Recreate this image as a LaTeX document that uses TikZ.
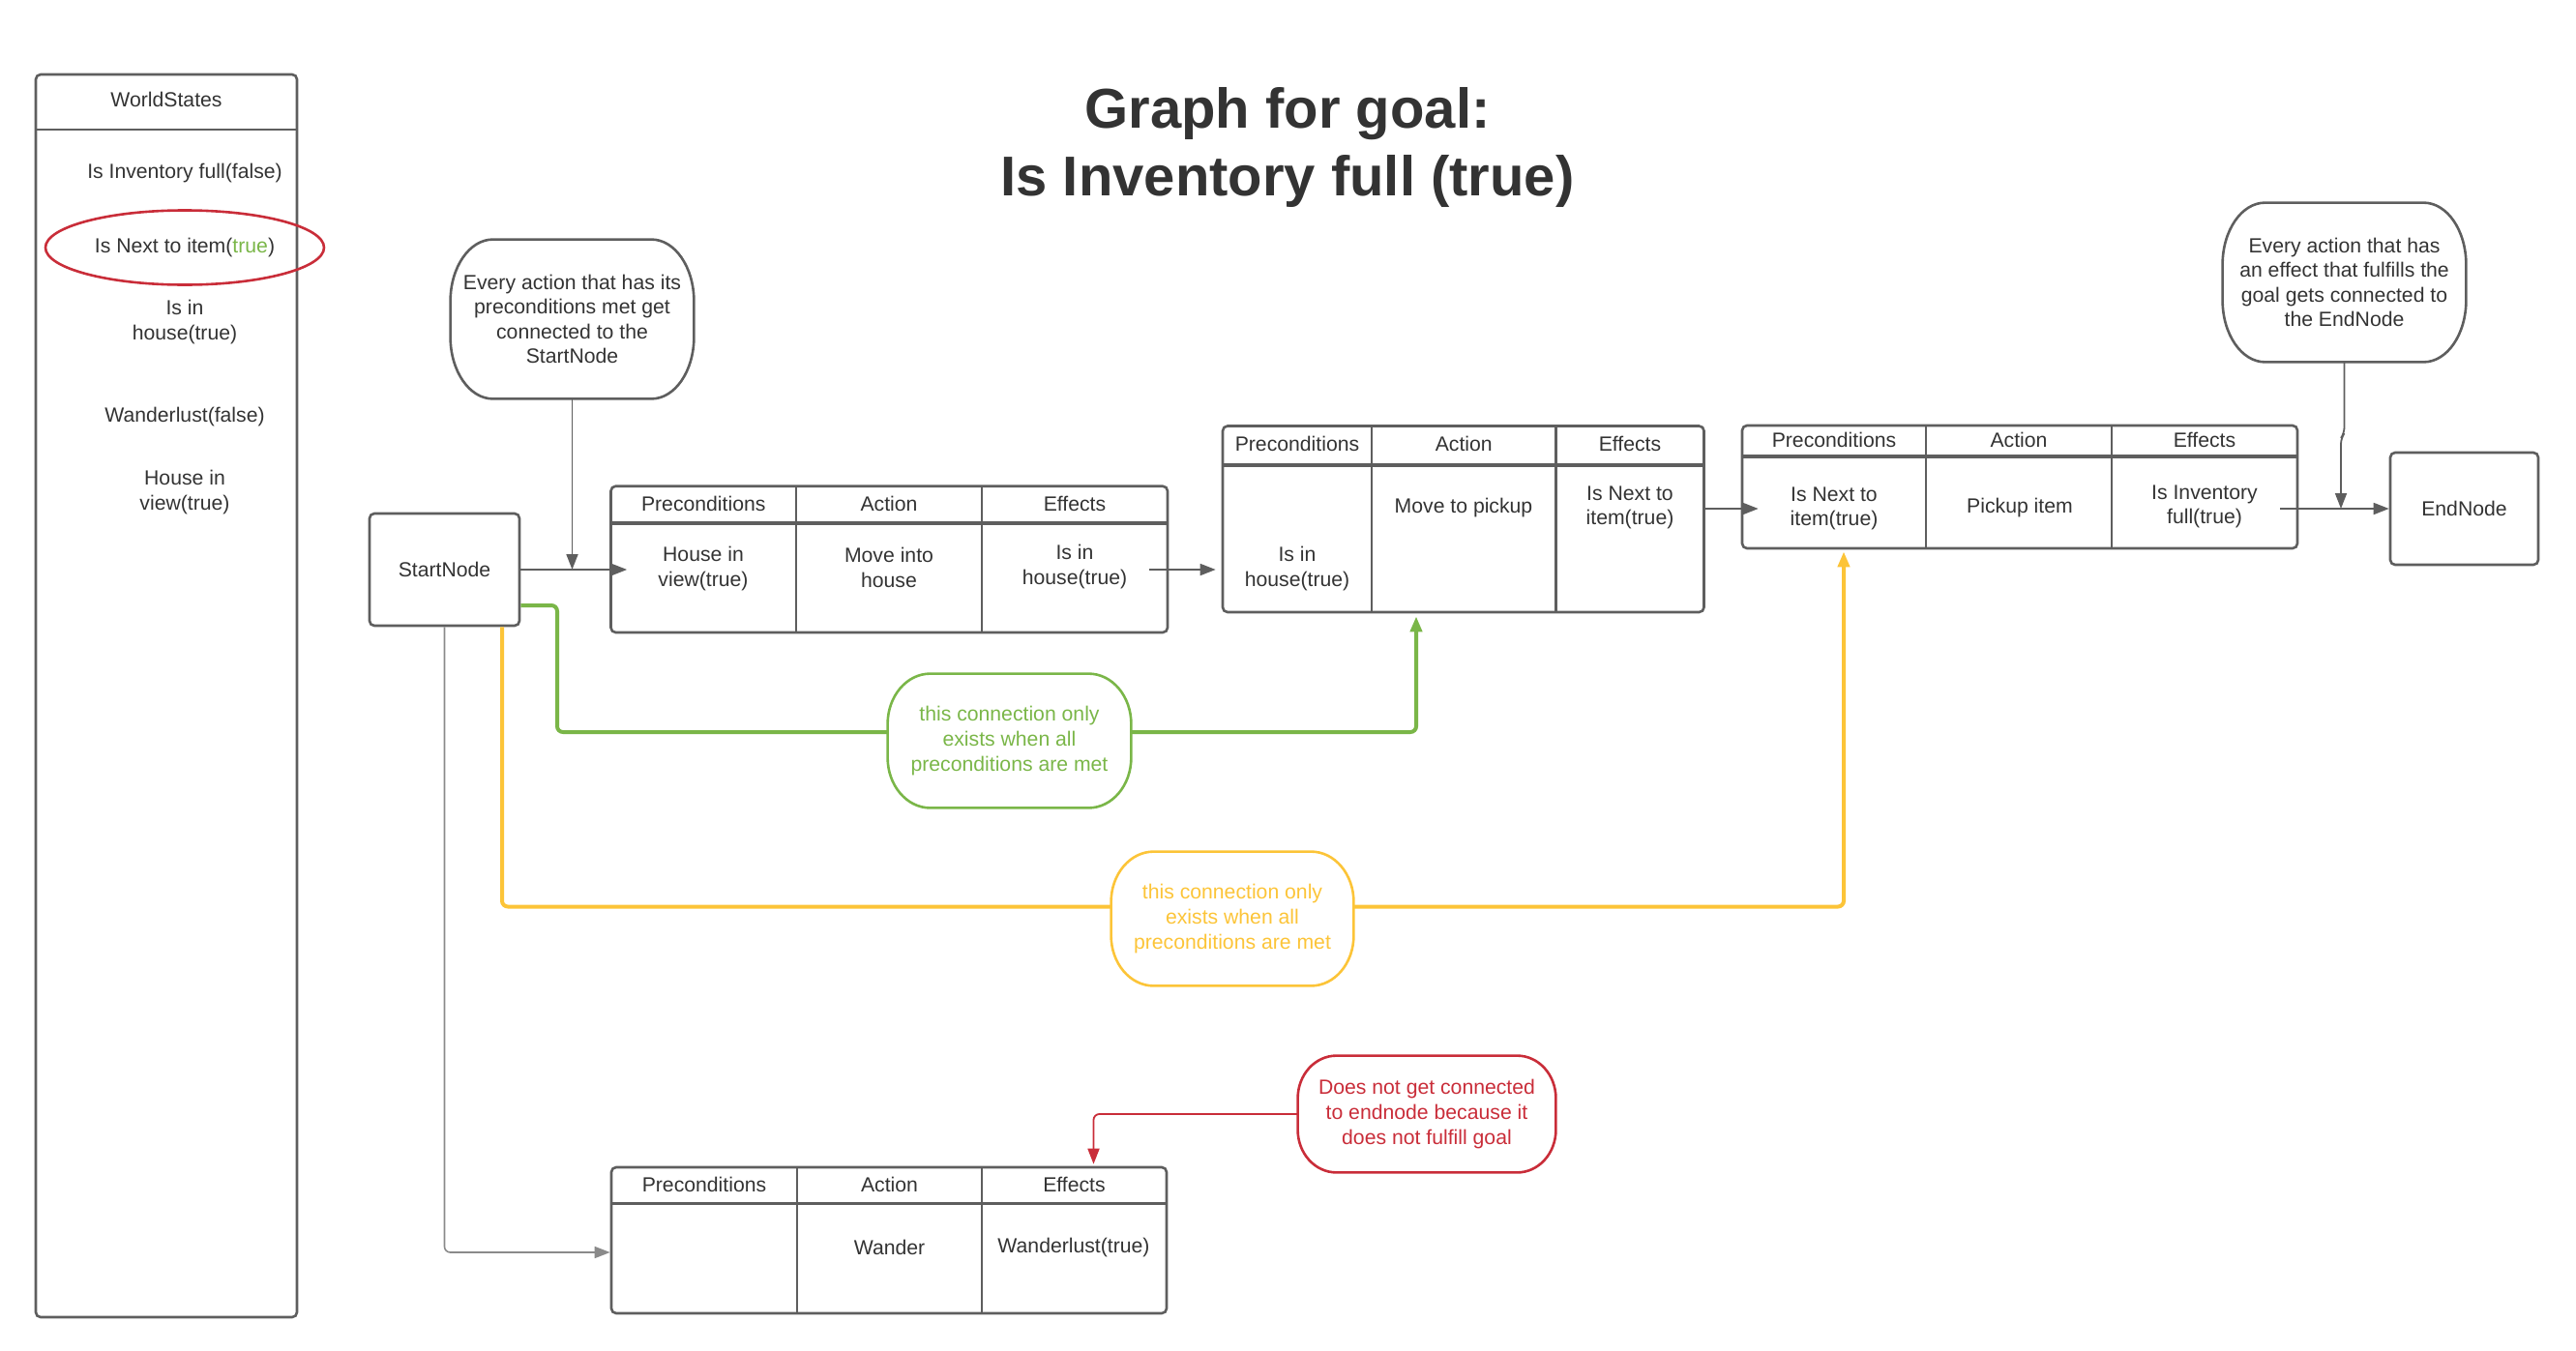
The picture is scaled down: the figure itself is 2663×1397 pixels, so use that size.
\documentclass[tikz,border=0pt]{standalone}
\usepackage{fontspec}
\setmainfont{Liberation Sans}
\usetikzlibrary{calc,fit,shapes.geometric,arrows.meta}
\definecolor{lg}{HTML}{5E5E5E}
\definecolor{lgl}{HTML}{8A8A8A}
\definecolor{tx}{HTML}{333333}
\definecolor{gr}{HTML}{7AB648}
\definecolor{ye}{HTML}{FCC438}
\definecolor{rd}{HTML}{C92D39}
\newcommand\acttable[9]{%
  \node[box, fit={(#2,#3)(#4,#5)}] (#1) {};
  \draw[hdr] (#2,#6) -- (#4,#6);
  \draw[colline] (#7,#3) -- (#7,#5);
  \draw[colline] (#8,#3) -- (#8,#5);
  \node (#1-h1) at ({(#2+#7)/2},#9) {Preconditions};
  \node (#1-h2) at ({(#7+#8)/2},#9) {Action};
  \node (#1-h3) at ({(#8+#4)/2},#9) {Effects};
}
\newcommand\capsule[4]{%
  \draw[#2] ([xshift=#3]#1.north west) -- ([xshift=-#3]#1.north east)
    arc[start angle=90,end angle=0,x radius=#3,y radius=#4]
    -- ([yshift=#4]#1.south east)
    arc[start angle=0,end angle=-90,x radius=#3,y radius=#4]
    -- ([xshift=#3]#1.south west)
    arc[start angle=270,end angle=180,x radius=#3,y radius=#4]
    -- ([yshift=-#4]#1.north west)
    arc[start angle=180,end angle=90,x radius=#3,y radius=#4]
    -- cycle;}
\begin{document}
\begin{tikzpicture}[x=0.5pt,y=-0.5pt,
  every node/.style={font=\fontsize{10.6}{12.8}\selectfont, text=tx, inner sep=0pt, align=center},
  box/.style={draw=lg, line width=1.3pt, rounded corners=2.5pt, inner sep=0pt},
  hdr/.style={draw=lg, line width=1.9pt},
  colline/.style={draw=lg, line width=1.3pt},
  tip/.style={-{Triangle[length=8pt,width=6pt]}},
  conn/.style={draw=lg, line width=0.9pt, rounded corners=3pt, tip},
  thinconn/.style={draw=lgl, line width=0.8pt, rounded corners=3pt, tip},
  gline/.style={draw=gr, line width=2pt, rounded corners=3pt},
  yline/.style={draw=ye, line width=2pt, rounded corners=3pt},
  rconn/.style={draw=rd, line width=0.9pt, rounded corners=3pt, tip},
  titlefont/.style={font=\fontsize{29}{35}\bfseries\selectfont, anchor=base}]
\useasboundingbox (0,0) rectangle (2663,1397);

% World states panel
\node[box, fit={(37,77)(307,1362)}] (ws) {};
\draw[colline] (37,134) -- (307,134);
\node (wst) at (172,103) {WorldStates};
\node (ws1) at (191,179) {Is Inventory full(false)};
\node[ellipse, draw=rd, line width=1.3pt, minimum width=144pt, minimum height=38.5pt] (ws2) at (191,256) {Is Next to item(\textcolor{gr}{true})};
\node (ws3) at (191,333) {Is in\\house(true)};
\node (ws4) at (191,431) {Wanderlust(false)};
\node (ws5) at (191,509) {House in\\view(true)};

% Title
\node[titlefont] (title1) at (1331,132) {Graph for goal:};
\node[titlefont] (title2) at (1331,202) {Is Inventory full (true)};

% Start / End
\node[box, minimum width=77.5pt, minimum height=58pt] (sn) at (459.5,589) {StartNode};
\node[box, minimum width=76.5pt, minimum height=58pt] (en) at (2547.5,526) {EndNode};

% Tables
\acttable{t1}{631.5}{502.7}{1207}{654}{540.7}{823}{1015}{521}
\node (t1p) at (727,588) {House in\\view(true)};
\node (t1a) at (919,587) {Move into\\house};
\node (t1e) at (1111,586) {Is in\\house(true)};

\acttable{t2}{1264}{440.5}{1761.5}{633}{481}{1418}{1608.5}{459}
\node (t2p) at (1341,588) {Is in\\house(true)};
\node (t2a) at (1513,525) {Move to pickup};
\node (t2e) at (1685,525) {Is Next to\\item(true)};

\acttable{t3}{1801}{440}{2375}{567}{472}{1991}{2183}{455}
\node (t3p) at (1896,526) {Is Next to\\item(true)};
\node (t3a) at (2088,525) {Pickup item};
\node (t3e) at (2279,524) {Is Inventory\\full(true)};

\acttable{t4}{632}{1207}{1206}{1358}{1244.5}{824}{1015}{1225}
\node (t4a) at (919.5,1290) {Wander};
\node (t4e) at (1110,1290) {Wanderlust(true)};

% Callouts
\node[minimum width=125.5pt, minimum height=82pt] (c1) at (591.5,330) {Every action that has its\\preconditions met get\\connected to the\\StartNode};
\capsule{c1}{draw=lg,line width=1.3pt}{22pt}{32pt}
\node[minimum width=125.5pt, minimum height=82pt] (c2) at (2423.5,292) {Every action that has\\an effect that fulfills the\\goal gets connected to\\the EndNode};
\capsule{c2}{draw=lg,line width=1.3pt}{22pt}{32pt}
\node[minimum width=125.5pt, minimum height=69pt, text=gr] (gc) at (1043.5,766) {this connection only\\exists when all\\preconditions are met};
\capsule{gc}{draw=gr,line width=1.3pt}{22pt}{26pt}
\node[minimum width=125pt, minimum height=69pt, text=ye] (yc) at (1274,950) {this connection only\\exists when all\\preconditions are met};
\capsule{yc}{draw=ye,line width=1.3pt}{22pt}{26pt}
\node[minimum width=133pt, minimum height=60pt, text=rd] (rc) at (1475,1152) {Does not get connected\\to endnode because it\\does not fulfill goal};
\capsule{rc}{draw=rd,line width=1.3pt}{20pt}{22pt}

% Connectors
\draw[conn] (sn.east) -- ($(t1.west |- sn.east)+(18,0)$);
\draw[conn] (c1.south) -- (c1.south |- sn.east);
\draw[conn] ($(t1.east |- sn.east)+(-20,0)$) -- ($(t2.west |- sn.east)+(-6,0)$);
\draw[conn] (t2.east |- t3p) -- ($(t3.west |- t3p)+(18,0)$);
\draw[conn] ($(t3.east |- en.west)+(-19,0)$) -- (en.west);
\coordinate (j1) at (2423.5,448);
\coordinate (j2) at (2420,453);
\draw[conn] (c2.south) -- (j1) -- (j2) -- (j2 |- en.west);

\coordinate (g1) at (576,626);
\coordinate (g2) at (576,757);
\coordinate (gx) at (1464,757);
\draw[gline] ($(sn.east)+(0,37)$) -- (g1) -- (g2) -- ($(gc.west)+(0,-9)$);
\draw[gline, -{Triangle[length=8pt,width=6pt]}] ($(gc.east)+(0,-9)$) -- (gx) -- ($(gx |- t2.south)+(0,3)$);

\coordinate (y1) at (519,937.5);
\coordinate (yx) at (1906,937.5);
\draw[yline] ($(sn.south)+(59.5,0)$) -- (y1) -- ($(yc.west)+(0,-12.5)$);
\draw[yline, -{Triangle[length=8pt,width=6pt]}] ($(yc.east)+(0,-12.5)$) -- (yx) -- ($(yx |- t3.south)+(0,2)$);

\draw[thinconn] (sn.south) |- ($(t4.west)+(0,12.5)$);

\coordinate (rx) at (1130.5,1152);
\draw[rconn] (rc.west) -- (rx) -- ($(rx |- t4.north)+(0,-2)$);
\end{tikzpicture}
\end{document}
